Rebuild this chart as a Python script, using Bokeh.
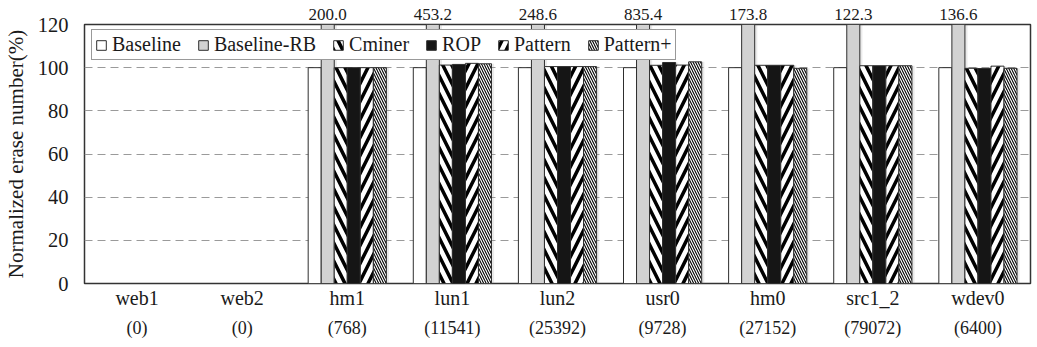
from bokeh.plotting import figure
from bokeh.models import (ColumnDataSource, FixedTicker, LinearAxis,
                          Range1d, Legend, LegendItem)
from bokeh.embed import file_html
from bokeh.resources import INLINE

# Workloads and their request counts
categories = ["web1", "web2", "hm1", "lun1", "lun2", "usr0", "hm0", "src1_2", "wdev0"]
counts = ["(0)", "(0)", "(768)", "(11541)", "(25392)", "(9728)", "(27152)", "(79072)", "(6400)"]

# Normalized erase number (%) per scheme
baseline = [0, 0, 100, 100, 100, 100, 100, 100, 100]
baseline_rb = [0, 0, 200.0, 453.2, 248.6, 835.4, 173.8, 122.3, 136.6]
cminer = [0, 0, 100, 101.2, 100.5, 101.1, 101.1, 100.9, 99.7]
rop = [0, 0, 100, 101.5, 100.5, 102.4, 101.1, 100.9, 99.6]
pattern = [0, 0, 100, 102.0, 100.5, 101.2, 101.1, 100.9, 100.7]
pattern_plus = [0, 0, 100, 101.8, 100.5, 102.7, 99.7, 100.9, 99.7]

FONT = "Liberation Serif"
TXT = "#1a1a1a"
EDGE = "#2e2e2e"
Y_MAX = 120

n = len(categories)
centers = [i + 0.5 for i in range(n)]

p = figure(width=1037, height=347, output_backend="svg", toolbar_location=None,
           x_range=Range1d(0, n), y_range=Range1d(0, Y_MAX),
           min_border_left=81, min_border_right=7, min_border_top=24,
           min_border_bottom=64, x_axis_location=None)
p.background_fill_color = "white"
p.border_fill_color = "white"
p.outline_line_color = "#333333"
p.outline_line_width = 1.5

# grid
p.xgrid.visible = False
p.ygrid.ticker = FixedTicker(ticks=[20, 40, 60, 80, 100])
p.ygrid.grid_line_color = "#9a9a9a"
p.ygrid.grid_line_dash = "8 5"
p.ygrid.grid_line_width = 1.2

# y axis
p.yaxis.ticker = FixedTicker(ticks=[0, 20, 40, 60, 80, 100, 120])
p.yaxis.axis_label = "Normalized erase number(%)"
p.yaxis.axis_label_text_font = FONT
p.yaxis.axis_label_text_font_style = "normal"
p.yaxis.axis_label_text_font_size = "21px"
p.yaxis.axis_label_text_color = TXT
p.yaxis.axis_label_standoff = 7
p.yaxis.major_label_text_font = FONT
p.yaxis.major_label_text_font_size = "20.5px"
p.yaxis.major_label_text_color = TXT
p.yaxis.major_label_standoff = 16
p.yaxis.major_tick_out = 0
p.yaxis.major_tick_in = 0
p.yaxis.axis_line_color = None
p.yaxis.major_tick_line_color = None
p.yaxis.minor_tick_line_color = None


def plain_axis(ticks, labels, size, standoff):
    ax = LinearAxis(ticker=FixedTicker(ticks=ticks),
                    major_label_overrides={t: s for t, s in zip(ticks, labels)})
    ax.major_label_text_font = FONT
    ax.major_label_text_font_size = size
    ax.major_label_text_color = TXT
    ax.major_label_standoff = standoff
    ax.major_tick_out = 0
    ax.major_tick_in = 0
    ax.axis_line_color = None
    ax.major_tick_line_color = None
    ax.minor_tick_line_color = None
    return ax


# x axes: workload names, then request counts
p.add_layout(plain_axis(centers, categories, "20px", 3), "below")
p.add_layout(plain_axis(centers, counts, "18px", 6), "below")

series = [
    ("Baseline", baseline, dict(fill_color="white")),
    ("Baseline-RB", baseline_rb, dict(fill_color="#d2d2d2")),
    ("Cminer", cminer, dict(fill_color="white", hatch_pattern="left_diagonal_line",
                            hatch_color="black", hatch_scale=18, hatch_weight=3.5)),
    ("ROP", rop, dict(fill_color="#151515")),
    ("Pattern", pattern, dict(fill_color="white", hatch_pattern="right_diagonal_line",
                              hatch_color="black", hatch_scale=18, hatch_weight=3.5)),
    ("Pattern+", pattern_plus, dict(fill_color="white", hatch_pattern="left_diagonal_line",
                                    hatch_color="black", hatch_scale=5, hatch_weight=1.1)),
]

bar_w = 0.124
k = len(series)
items = []
for j, (name, vals, style) in enumerate(series):
    off = (j - (k - 1) / 2) * bar_w
    xs = [c + off for c, v in zip(centers, vals) if v > 0]
    ys = [v for v in vals if v > 0]
    src = ColumnDataSource(dict(x=xs, top=ys, sx=[x + 0.025 for x in xs]))
    # soft drop shadow
    p.vbar(x="sx", top="top", bottom=0, width=bar_w, source=src,
           fill_color="#888888", fill_alpha=0.18, line_color=None)
    r = p.vbar(x="x", top="top", bottom=0, width=bar_w, source=src,
               line_color=EDGE, line_width=1, **style)
    items.append(LegendItem(label=name, renderers=[r]))

# values of bars running past the top of the axis, shown above the frame
rb_off = (1 - (k - 1) / 2) * bar_w
tall_x = [c + rb_off for c, v in zip(centers, baseline_rb) if v > Y_MAX]
tall_txt = ["%.1f" % v for v in baseline_rb if v > Y_MAX]
p.add_layout(plain_axis(tall_x, tall_txt, "17px", 5), "above")

legend = Legend(items=items, orientation="horizontal", location=(7, 223),
                border_line_color="#333333", border_line_width=1.5,
                background_fill_color="white", background_fill_alpha=1,
                label_text_font=FONT, label_text_font_size="20px",
                label_text_color=TXT, glyph_width=12, glyph_height=12,
                label_standoff=5, spacing=16, padding=3, margin=0,
                label_height=14)
p.add_layout(legend)

open("out.html", "w").write(file_html(p, INLINE))
